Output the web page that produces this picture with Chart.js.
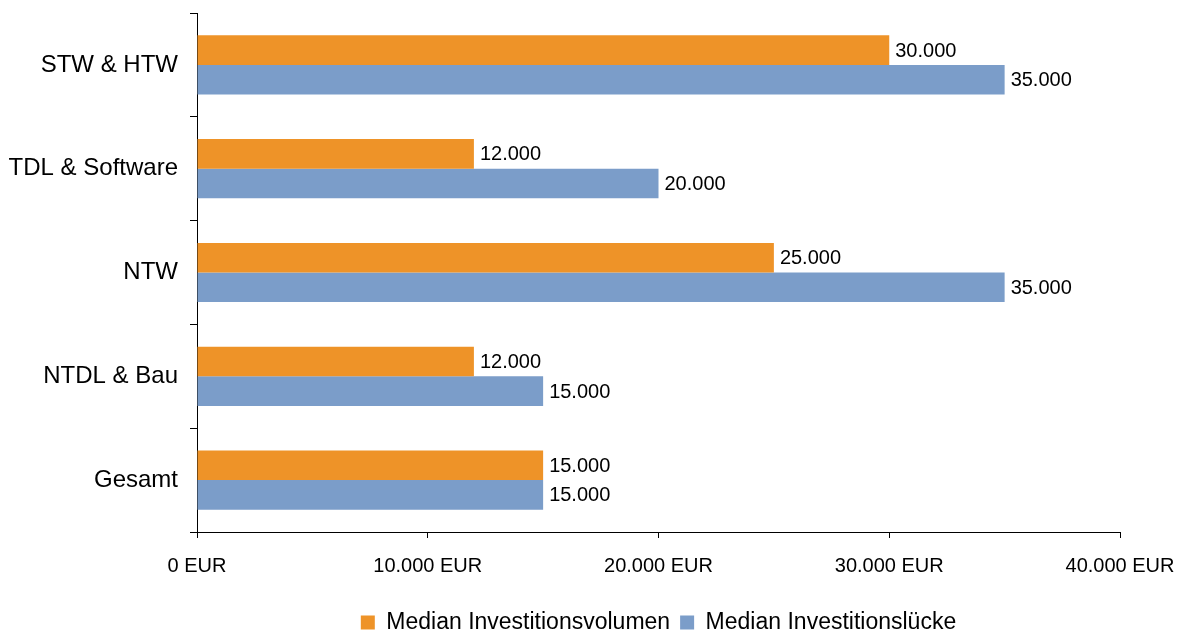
<!DOCTYPE html>
<html>
<head>
<meta charset="utf-8">
<script src="https://cdn.jsdelivr.net/npm/chart.js@4"></script>
<style>
  html, body { margin: 0; padding: 0; background: #fff; }
  #wrap { width: 1182px; height: 632px; }
</style>
</head>
<body>
<div id="wrap"><canvas id="chart" width="1182" height="632"></canvas></div>
<script>
const categories = ["STW & HTW", "TDL & Software", "NTW", "NTDL & Bau", "Gesamt"];
const investVolume = [30000, 12000, 25000, 12000, 15000];
const investGap = [35000, 20000, 35000, 15000, 15000];
const seriesNames = ["Median Investitionsvolumen", "Median Investitionslücke"];
const xTicks = [0, 10000, 20000, 30000, 40000];

const FONT = "'Liberation Sans', Arial, sans-serif";

// 30000 -> "30.000"
function fmt(v) {
  return String(v).replace(/\B(?=(\d{3})+(?!\d))/g, ".");
}

// value labels at the end of each bar
const barLabels = {
  id: "barLabels",
  afterDatasetsDraw(chart) {
    const ctx = chart.ctx;
    ctx.save();
    ctx.font = "20px " + FONT;
    ctx.fillStyle = "#000";
    ctx.textAlign = "left";
    ctx.textBaseline = "middle";
    chart.data.datasets.forEach((ds, i) => {
      chart.getDatasetMeta(i).data.forEach((bar, j) => {
        ctx.fillText(fmt(ds.data[j]), bar.x + 6, bar.y + 1);
      });
    });
    ctx.restore();
  },
};

// center the legend under the plot area instead of the whole canvas
const legendUnderPlot = {
  id: "legendUnderPlot",
  afterLayout(chart) {
    const lg = chart.legend;
    const area = chart.chartArea;
    const shift = (area.left + area.right) / 2 - (lg.left + lg.right) / 2;
    lg.left += shift;
    lg.right += shift;
  },
};

const ctx = document.getElementById("chart").getContext("2d");
new Chart(ctx, {
  type: "bar",
  data: {
    labels: categories,
    datasets: [
      {
        label: seriesNames[0],
        data: investVolume,
        backgroundColor: "#EE9328",
        categoryPercentage: 0.57,
        barPercentage: 1,
      },
      {
        label: seriesNames[1],
        data: investGap,
        backgroundColor: "#7B9DC9",
        categoryPercentage: 0.57,
        barPercentage: 1,
      },
    ],
  },
  options: {
    indexAxis: "y",
    responsive: false,
    animation: false,
    layout: { padding: { top: 13, right: 62, left: 0, bottom: -12 } },
    scales: {
      x: {
        min: xTicks[0],
        max: xTicks[xTicks.length - 1],
        afterBuildTicks: (s) => { s.ticks = xTicks.map((v) => ({ value: v })); },
        border: { color: "#000", width: 1 },
        grid: { drawOnChartArea: false, drawTicks: true, tickLength: 6, color: "#000" },
        ticks: {
          color: "#000",
          font: { family: FONT, size: 20 },
          padding: 16,
          maxRotation: 0,
          callback: (v) => fmt(v) + " EUR",
        },
        afterFit: (s) => {
          s.height = 69;
          s.paddingLeft = 0;
          s.paddingRight = 0;
        },
      },
      y: {
        border: { color: "#000", width: 1 },
        grid: { drawOnChartArea: false, drawTicks: true, tickLength: 7, color: "#000", offset: true },
        ticks: {
          color: "#000",
          font: { family: FONT, size: 24 },
          padding: 12,
        },
        afterFit: (s) => {
          s.width = 197;
          s.paddingTop = 0;
          s.paddingBottom = 0;
        },
      },
    },
    plugins: {
      legend: {
        position: "bottom",
        labels: {
          color: "#000",
          font: { family: FONT, size: 23 },
          boxWidth: 14,
          boxHeight: 14,
          padding: 10,
        },
      },
      tooltip: { enabled: false },
    },
  },
  plugins: [barLabels, legendUnderPlot],
});
</script>
</body>
</html>
